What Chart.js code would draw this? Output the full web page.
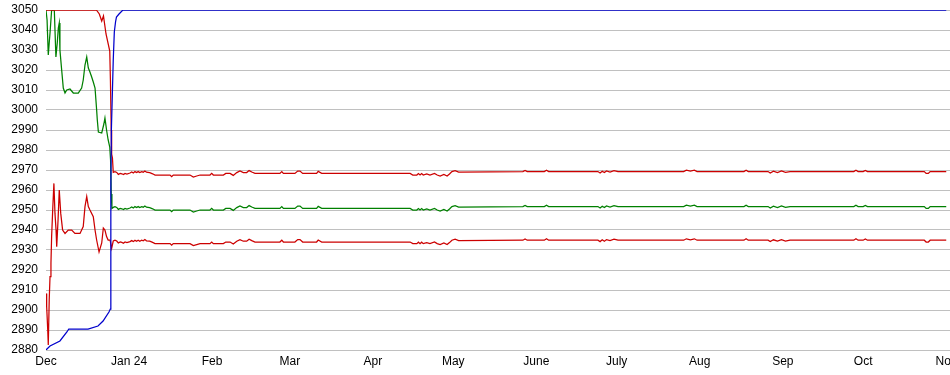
<!DOCTYPE html>
<html><head><meta charset="utf-8">
<script src="https://cdn.jsdelivr.net/npm/chart.js@4"></script>
<style>html,body{margin:0;padding:0;background:#fff;overflow:hidden}</style>
</head><body>
<canvas id="c" width="950" height="375"></canvas>
<script>
// X axis: days since Dec 1 (2023); month starts and labels
const monthStartDays = [0, 31, 62, 91, 122, 152, 183, 213, 244, 275, 305, 336];
const monthLabels = ["Dec", "Jan 24", "Feb", "Mar", "Apr", "May", "June", "July", "Aug", "Sep", "Oct", "Nov"];
const yTicks = {min: 2880, max: 3050, step: 10};

// Blue series
const blueDays   = [0, 1.5, 5.2, 7.8, 8.5, 15.7, 19.4, 21.3, 23.5, 24.0, 24.2, 24.4, 24.8, 25.1, 25.5, 25.95, 26.3, 27.25, 28.7, 336];
const blueValues = [2880, 2882, 2884.5, 2889, 2890.5, 2890.5, 2892, 2894.5, 2899, 2900.5, 2960, 2990, 3010, 3025, 3039, 3044, 3046.5, 3048, 3050, 3050];

// Early (December) parts of the three other series
const upperEarlyDays   = [0, 18.8, 19.9, 20.8, 21.45, 22.4, 23.8, 24.05, 24.35, 24.5, 24.8];
const upperEarlyValues = [3050, 3050, 3048, 3044.5, 3047, 3038, 3029.5, 3014.5, 2990, 2978, 2976];

const greenEarlyDays   = [0, 0.4, 0.85, 1.2, 1.5, 2.1, 3.1, 3.7, 4.2, 4.6, 4.95, 5.2, 5.85, 6.45, 7.1, 7.75, 8.95, 10.2, 12.05, 13.3, 13.9, 14.55, 15.2, 15.8, 16.4, 17.05, 17.65, 18.3, 18.9, 19.15, 19.55, 20.8, 21.6, 22.0, 22.6, 23.2, 23.8, 24.1, 24.35, 24.6];
const greenEarlyValues = [3050, 3045, 3027.5, 3033.5, 3038.5, 3050, 3050, 3026.5, 3033.5, 3041, 3043.5, 3030, 3020, 3011, 3008.5, 3010, 3010.5, 3008.5, 3008.5, 3011, 3015, 3022.5, 3026.5, 3021, 3019, 3016.5, 3014, 3011, 3000, 2995, 2989, 2988.5, 2993, 2996, 2990, 2985, 2981.5, 2975, 2958, 2950.8];

const lowerEarlyDays   = [0, 0.25, 0.65, 0.85, 1.2, 1.5, 1.85, 2.1, 2.5, 2.95, 3.35, 3.75, 4.0, 4.5, 4.95, 5.5, 6.2, 7.1, 8.3, 9.6, 10.8, 12.7, 13.9, 14.55, 15.2, 15.8, 16.4, 17.65, 18.3, 18.9, 19.8, 20.8, 21.4, 22.0, 22.6, 23.2, 23.9, 24.5];
const lowerEarlyValues = [2908.3, 2901.7, 2890, 2882.5, 2905, 2916.7, 2923.5, 2936.7, 2950, 2963.3, 2948.3, 2940, 2931.7, 2945, 2960, 2948.3, 2940, 2938.3, 2940, 2940, 2938.3, 2938.3, 2941.7, 2951.7, 2956.7, 2951.7, 2950, 2946.7, 2940, 2935, 2929, 2933.5, 2941, 2940, 2936.7, 2935, 2935, 2930.8];

// Steady parts (from late December on)
const steadyDays = [25.1, 25.75, 26.4, 27.0, 27.7, 28.3, 28.9, 29.5, 30.2, 31.35, 32.0, 32.6, 33.2, 33.8, 34.4, 35.0, 35.7, 36.3, 36.9, 37.5, 38.7, 39.8, 40.7, 46.3, 46.9, 47.5, 53.75, 55.0, 56.25, 57.5, 61.2, 61.85, 62.45, 66.2, 67.1, 68.7, 69.9, 71.2, 72.4, 73.65, 74.9, 75.8, 76.8, 78.0, 87.3, 88.0, 88.6, 92.9, 93.95, 94.8, 95.8, 101.0, 101.6, 102.9, 135.9, 136.9, 138.4, 139.0, 139.6, 140.2, 140.8, 142.1, 143.3, 145.0, 146.0, 147.1, 148.5, 149.7, 150.6, 151.5, 152.7, 154.0, 178.0, 178.8, 179.6, 186.0, 186.8, 187.6, 206.0, 206.8, 207.6, 208.4, 209.2, 210.5, 212.0, 213.5, 238.0, 239.0, 240.5, 242.0, 243.0, 260.5, 261.3, 262.1, 269.5, 270.3, 271.5, 273.0, 274.5, 276.0, 277.7, 301.5, 302.3, 303.1, 305.0, 305.8, 306.6, 327.8, 328.5, 329.3, 330.0, 336.0];

const upperSteadyValues = [2968.8, 2969.2, 2968.8, 2967.8, 2968.3, 2968.1, 2967.7, 2968.3, 2968.0, 2968.5, 2969.0, 2968.5, 2969.2, 2968.7, 2969.2, 2968.7, 2969.2, 2968.9, 2969.5, 2968.9, 2968.7, 2968.1, 2967.5, 2967.5, 2966.7, 2967.5, 2967.5, 2966.5, 2967.0, 2967.5, 2967.5, 2968.3, 2967.5, 2967.5, 2968.3, 2968.3, 2967.3, 2968.7, 2969.5, 2968.7, 2968.7, 2969.7, 2969.0, 2968.3, 2968.3, 2969.2, 2968.3, 2968.3, 2969.5, 2969.5, 2968.3, 2968.3, 2969.3, 2968.3, 2968.3, 2967.5, 2967.5, 2968.2, 2967.5, 2968.2, 2967.5, 2968.0, 2967.5, 2968.3, 2967.5, 2967.0, 2967.8, 2967.0, 2968.0, 2969.2, 2969.7, 2969.0, 2969.2, 2969.8, 2969.2, 2969.2, 2969.9, 2969.2, 2969.2, 2968.5, 2969.4, 2968.7, 2969.5, 2969.0, 2969.7, 2969.2, 2969.2, 2969.9, 2969.4, 2969.9, 2969.2, 2969.2, 2969.9, 2969.2, 2969.2, 2968.5, 2969.4, 2968.7, 2969.5, 2968.8, 2969.2, 2969.2, 2969.9, 2969.2, 2969.2, 2969.8, 2969.2, 2969.2, 2968.3, 2968.3, 2969.2, 2969.2];

const greenSteadyValues = [2951.3, 2951.7, 2951.3, 2950.3, 2950.8, 2950.6, 2950.2, 2950.8, 2950.5, 2951.0, 2951.5, 2951.0, 2951.7, 2951.2, 2951.7, 2951.2, 2951.7, 2951.4, 2952.0, 2951.4, 2951.2, 2950.6, 2950.0, 2950.0, 2949.2, 2950.0, 2950.0, 2949.0, 2949.5, 2950.0, 2950.0, 2950.8, 2950.0, 2950.0, 2950.8, 2950.8, 2949.8, 2951.2, 2952.0, 2951.2, 2951.2, 2952.2, 2951.5, 2950.8, 2950.8, 2951.7, 2950.8, 2950.8, 2952.0, 2952.0, 2950.8, 2950.8, 2951.8, 2950.8, 2950.8, 2950.0, 2950.0, 2950.7, 2950.0, 2950.7, 2950.0, 2950.5, 2950.0, 2950.8, 2950.0, 2949.5, 2950.3, 2949.5, 2950.5, 2951.7, 2952.2, 2951.5, 2951.7, 2952.3, 2951.7, 2951.7, 2952.4, 2951.7, 2951.7, 2951.0, 2951.9, 2951.2, 2952.0, 2951.5, 2952.2, 2951.7, 2951.7, 2952.4, 2951.9, 2952.4, 2951.7, 2951.7, 2952.4, 2951.7, 2951.7, 2951.0, 2951.9, 2951.2, 2952.0, 2951.3, 2951.7, 2951.7, 2952.4, 2951.7, 2951.7, 2952.3, 2951.7, 2951.7, 2950.8, 2950.8, 2951.7, 2951.7];

const lowerSteadyValues = [2934.5, 2934.9, 2934.5, 2933.5, 2934.0, 2933.8, 2933.4, 2934.0, 2933.7, 2934.2, 2934.7, 2934.2, 2934.9, 2934.4, 2934.9, 2934.4, 2934.9, 2934.6, 2935.2, 2934.6, 2934.4, 2933.8, 2933.2, 2933.2, 2932.4, 2933.2, 2933.2, 2932.2, 2932.7, 2933.2, 2933.2, 2934.0, 2933.2, 2933.2, 2934.0, 2934.0, 2933.0, 2934.4, 2935.2, 2934.4, 2934.4, 2935.4, 2934.7, 2934.0, 2934.0, 2934.9, 2934.0, 2934.0, 2935.2, 2935.2, 2934.0, 2934.0, 2935.0, 2934.0, 2934.0, 2933.2, 2933.2, 2933.9, 2933.2, 2933.9, 2933.2, 2933.7, 2933.2, 2934.0, 2933.2, 2932.7, 2933.5, 2932.7, 2933.7, 2934.9, 2935.4, 2934.7, 2934.9, 2935.5, 2934.9, 2934.9, 2935.6, 2934.9, 2934.9, 2934.2, 2935.1, 2934.4, 2935.2, 2934.7, 2935.4, 2934.9, 2934.9, 2935.6, 2935.1, 2935.6, 2934.9, 2934.9, 2935.6, 2934.9, 2934.9, 2934.2, 2935.1, 2934.4, 2935.2, 2934.5, 2934.9, 2934.9, 2935.6, 2934.9, 2934.9, 2935.5, 2934.9, 2934.9, 2934.0, 2934.0, 2934.9, 2934.9];

function pts(days, vals) { return days.map((d, i) => ({x: d, y: vals[i]})); }

const FONT = {family: "'Liberation Sans', Arial, sans-serif", size: 12};

new Chart(document.getElementById('c'), {
  type: 'line',
  data: {
    datasets: [
      {label: 'blue', data: pts(blueDays, blueValues), borderColor: '#0000cc'},
      {label: 'upper', data: pts(upperEarlyDays.concat(steadyDays), upperEarlyValues.concat(upperSteadyValues)), borderColor: '#cc0000'},
      {label: 'lower', data: pts(lowerEarlyDays.concat(steadyDays), lowerEarlyValues.concat(lowerSteadyValues)), borderColor: '#cc0000'},
      {label: 'green', data: pts(greenEarlyDays.concat(steadyDays), greenEarlyValues.concat(greenSteadyValues)), borderColor: '#008000'}
    ]
  },
  options: {
    responsive: false,
    animation: false,
    events: [],
    layout: {padding: {left: 0, right: 0, top: 10, bottom: 0}},
    plugins: {legend: {display: false}, tooltip: {enabled: false}},
    elements: {point: {radius: 0}, line: {borderWidth: 1.25, tension: 0, fill: false}},
    scales: {
      x: {
        type: 'linear', min: 0, max: 337.4,
        grid: {display: false, drawTicks: false},
        border: {display: false},
        afterBuildTicks: s => { s.ticks = monthStartDays.map(v => ({value: v})); },
        afterFit: s => { s.height = 25; s.paddingLeft = 0; s.paddingRight = 0; },
        ticks: {
          autoSkip: false, maxRotation: 0, minRotation: 0, padding: 4, color: '#000', font: FONT,
          callback: v => monthLabels[monthStartDays.indexOf(v)]
        }
      },
      y: {
        min: yTicks.min, max: yTicks.max,
        afterFit: s => { s.width = 46; s.paddingTop = 0; s.paddingBottom = 0; },
        grid: {color: '#c0c0c0', drawTicks: false, lineWidth: 1},
        border: {display: false},
        ticks: {stepSize: yTicks.step, padding: 8, color: '#000', font: FONT, callback: v => String(v)}
      }
    }
  }
});
</script>
</body></html>
